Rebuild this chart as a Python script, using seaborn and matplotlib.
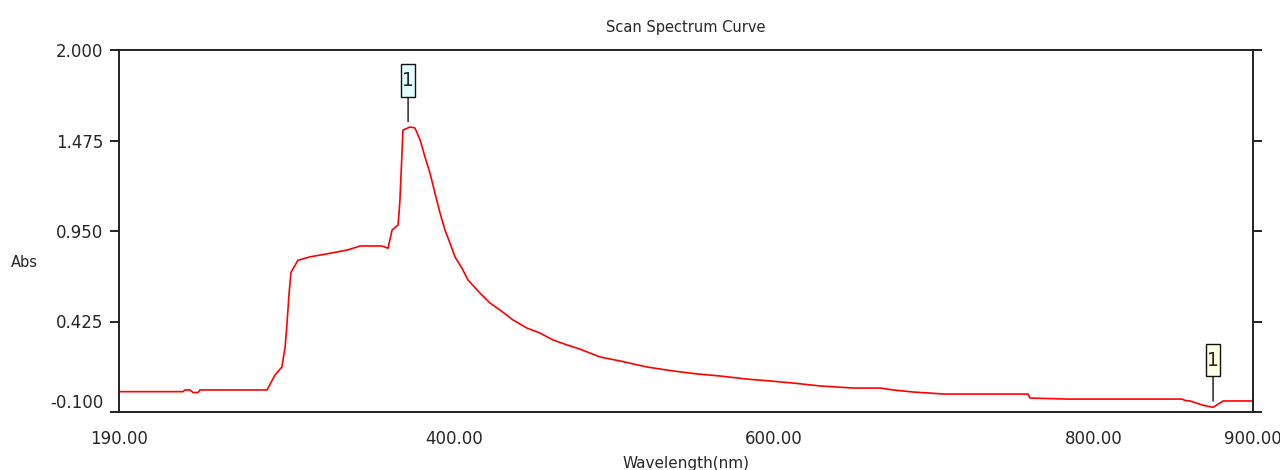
import numpy as np
import pandas as pd
import matplotlib
matplotlib.use('Agg')
import matplotlib.pyplot as plt
import seaborn as sns
from matplotlib.path import Path
from matplotlib.transforms import ScaledTranslation

# spectrum (wavelength in nm, absorbance)
wavelength = [190, 230, 231.3, 234.5, 236.3, 239.5, 240.7, 281.4, 282.7, 287.7,
              292, 294, 295, 296.5, 297.7, 302, 309.6, 320, 333, 341,
              354.7, 358.4, 361, 364.7, 365.3, 365.9, 367.8, 372.2, 375.3, 378.5,
              381.6, 384.7, 387.8, 391.0, 394.1, 397.2, 400.4, 404.7, 408.5, 416.0,
              422.3, 428.5, 436.7, 445.4, 453.6, 461.7, 470.5, 478.6, 491.2, 503.7,
              520.6, 536.9, 551.9, 566.1, 583.2, 597.6, 612.0, 628.9, 649.5, 666.5,
              674.6, 687.1, 707.2, 759.1, 760.4, 784.2, 855.5, 857.5, 860.6, 868.8,
              875, 881.3, 899.5]
absorbance = [0.018, 0.018, 0.028, 0.028, 0.013, 0.013, 0.028, 0.028, 0.028, 0.115,
              0.161, 0.277, 0.39, 0.59, 0.71, 0.78, 0.80, 0.817, 0.84, 0.863,
              0.863, 0.85, 0.956, 0.985, 1.05, 1.13, 1.536, 1.553, 1.548, 1.478,
              1.379, 1.286, 1.170, 1.054, 0.956, 0.880, 0.799, 0.735, 0.666, 0.590,
              0.532, 0.492, 0.434, 0.387, 0.358, 0.318, 0.289, 0.265, 0.219, 0.196,
              0.161, 0.138, 0.121, 0.109, 0.091, 0.080, 0.068, 0.051, 0.039, 0.039,
              0.028, 0.016, 0.004, 0.004, -0.019, -0.025, -0.025, -0.033, -0.036, -0.061,
              -0.073, -0.036, -0.036]

# peak / valley markers
marker_wl = [371, 875]
marker_colors = ['#e0ffff', '#ffffe1']

xticks = [190, 400, 600, 800, 900]
yticks = [-0.100, 0.425, 0.950, 1.475, 2.000]

df = pd.DataFrame({'Wavelength': wavelength, 'Abs': absorbance})

sns.set_style('ticks')
plt.rcParams['font.family'] = ['DejaVu Sans']

fig = plt.figure(figsize=(12.8, 4.7), dpi=100)
ax = fig.add_axes([119 / 1280, 1 - 412 / 470, (1253 - 119) / 1280, (412 - 50) / 470])

sns.lineplot(data=df, x='Wavelength', y='Abs', color='#ff0000', linewidth=1.2, sort=False, ax=ax)

ax.set_xlim(190, 900)
ax.set_ylim(-0.1, 2.0)
ax.set_xticks(xticks)
ax.set_xticklabels(['%.2f' % t for t in xticks])
ax.set_yticks(yticks)
ax.set_yticklabels(['%.3f' % t for t in yticks])

for s in ax.spines.values():
    s.set_visible(True)
    s.set_linewidth(1.4)
    s.set_color('#222222')

ax.tick_params(axis='y', left=True, right=True, labelright=False, length=6.5, width=1.4,
               color='#222222', labelsize=12, pad=5)
ax.tick_params(axis='x', length=0, labelsize=12, pad=13)

# lift the bottom y label so it clears the x labels
lbl = ax.get_yticklabels()[0]
lbl.set_transform(lbl.get_transform() + ScaledTranslation(0, 11 / 100, fig.dpi_scale_trans))

ax.set_title('Scan Spectrum Curve', fontsize=10.5, pad=13)
ax.set_xlabel('Wavelength(nm)', fontsize=11, labelpad=6)
ax.set_ylabel('Abs', fontsize=10.5, rotation=0, ha='center', va='center')
ax.yaxis.set_label_coords(-0.083, 0.414)


def tall_box(x0, y0, width, height, mutation_size):
    px = 0.06 * mutation_size
    py = 0.36 * mutation_size
    verts = [(x0 - px, y0 - py), (x0 + width + px, y0 - py),
             (x0 + width + px, y0 + height + py), (x0 - px, y0 + height + py),
             (x0 - px, y0 - py)]
    return Path(verts, closed=True)


for wl, c in zip(marker_wl, marker_colors):
    y = np.interp(wl, wavelength, absorbance)
    ax.annotate('1', xy=(wl, y), xytext=(0, 34), textcoords='offset points',
                ha='center', va='center', fontsize=13.5,
                bbox=dict(boxstyle=tall_box, fc=c, ec='#111111', lw=1.0),
                arrowprops=dict(arrowstyle='-', color='#111111', lw=1.0, shrinkA=0, shrinkB=4.5))

fig.savefig('out.png', dpi=100)
